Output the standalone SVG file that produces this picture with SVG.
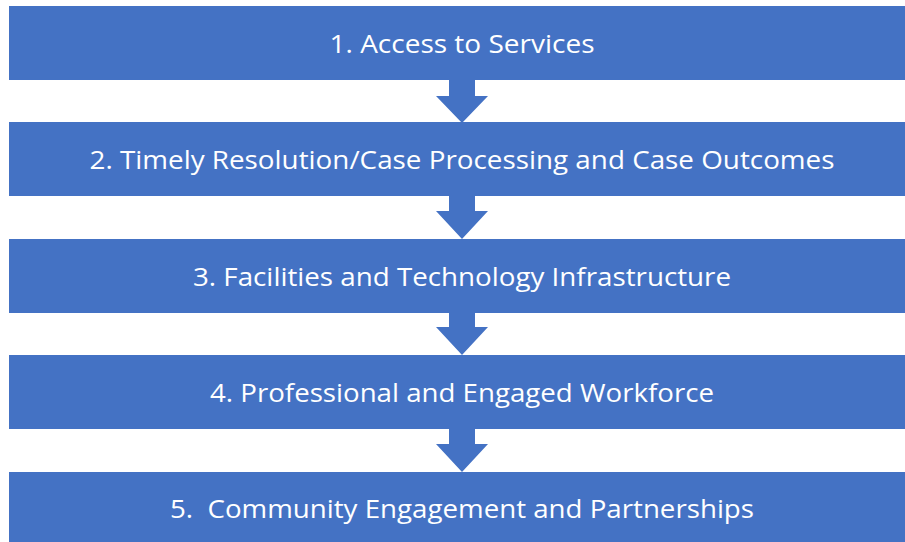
<svg xmlns="http://www.w3.org/2000/svg" width="905" height="542" viewBox="0 0 905 542">
<style>
.box{fill:#4472C4;stroke:#7F9FD6;stroke-width:0}
.lbl{fill:#FFFFFF;font-family:"Open Sans","Liberation Sans",sans-serif;font-size:25px;text-anchor:middle;dominant-baseline:central;white-space:pre}
.arr{fill:#4472C4}
</style>
<rect width="905" height="542" fill="#FFFFFF"/>
<g id="connectors">
<polygon class="arr" points="449,79 475,79 475,96 488,96 462,123 436,96 449,96"/>
<polygon class="arr" points="449,195 475,195 475,211 488,211 462,239 436,211 449,211"/>
<polygon class="arr" points="449,312 475,312 475,327 488,327 462,355 436,327 449,327"/>
<polygon class="arr" points="449,428 475,428 475,444 488,444 462,472 436,444 449,444"/>
</g>
<g id="node1"><rect class="box" x="9" y="6" width="900" height="74"/><text class="lbl" x="462" y="43" textLength="265" lengthAdjust="spacingAndGlyphs">1. Access to Services</text></g>
<g id="node2"><rect class="box" x="9" y="122" width="900" height="74"/><text class="lbl" x="462" y="159" textLength="745" lengthAdjust="spacingAndGlyphs">2. Timely Resolution/Case Processing and Case Outcomes</text></g>
<g id="node3"><rect class="box" x="9" y="239" width="900" height="74"/><text class="lbl" x="462" y="276" textLength="538" lengthAdjust="spacingAndGlyphs">3. Facilities and Technology Infrastructure</text></g>
<g id="node4"><rect class="box" x="9" y="355" width="900" height="74"/><text class="lbl" x="462" y="392" textLength="504" lengthAdjust="spacingAndGlyphs">4. Professional and Engaged Workforce</text></g>
<g id="node5"><rect class="box" x="9" y="472" width="900" height="74"/><text class="lbl" x="462" y="508" textLength="584" lengthAdjust="spacingAndGlyphs">5.  Community Engagement and Partnerships</text></g>
</svg>
